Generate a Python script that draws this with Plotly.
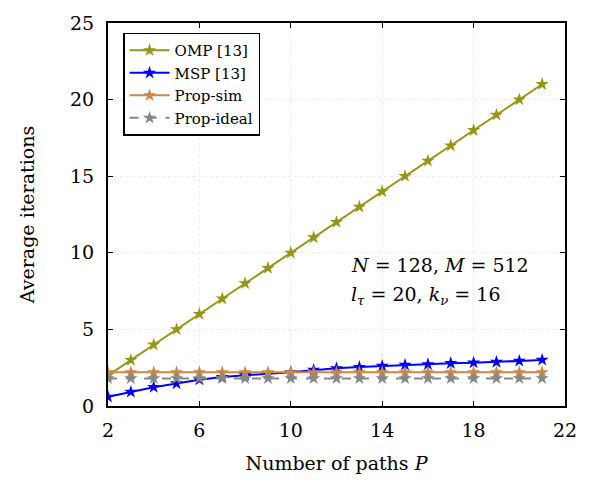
import plotly.graph_objects as go

paths = list(range(2, 22))
omp = [2, 3, 4, 5, 6, 7, 8, 9, 10, 11, 12, 13, 14, 15, 16, 17, 18, 19, 20, 21]
msp = [0.6, 0.92, 1.23, 1.47, 1.72, 1.89, 2.02, 2.11, 2.21, 2.35, 2.46, 2.54, 2.61, 2.68, 2.72, 2.79, 2.83, 2.87, 2.94, 3.01]
prop_sim = [2.2] * 20
prop_ideal = [1.8] * 20

names = ["OMP [13]", "MSP [13]", "Prop-sim", "Prop-ideal"]
colors = ["rgb(150,150,20)", "rgb(0,0,255)", "rgb(205,135,70)", "rgb(135,135,135)"]
dashes = ["solid", "solid", "solid", "dash"]
series = [omp, msp, prop_sim, prop_ideal]

font_family = "DejaVu Serif, Liberation Serif, serif"

fig = go.Figure()
for name, ys, c, d in zip(names, series, colors, dashes):
    fig.add_trace(go.Scatter(
        x=paths, y=ys, name=name, mode="lines+markers",
        line=dict(color=c, width=2, dash=d),
        marker=dict(symbol="star", size=10, color=c),
    ))

axis_common = dict(
    showline=True, linecolor="black", linewidth=2, mirror="ticks",
    ticks="inside", ticklen=5, tickcolor="black",
    showgrid=True, gridcolor="rgb(236,236,236)", griddash="dot", gridwidth=1,
    zeroline=False,
    tickfont=dict(family=font_family, size=19, color="black"),
)

fig.update_layout(
    width=589, height=483,
    margin=dict(l=108, r=24, t=16, b=75),
    paper_bgcolor="white", plot_bgcolor="white",
    font=dict(family=font_family, color="black"),
    xaxis=dict(range=[2, 22], tickvals=[2, 6, 10, 14, 18, 22], ticklabelstandoff=6,
               title=dict(text="Number of paths <i>P</i>", font=dict(family=font_family, size=19), standoff=17),
               **axis_common),
    yaxis=dict(range=[0, 25], tickvals=[0, 5, 10, 15, 20, 25], ticklabelstandoff=8,
               title=dict(text="Average iterations", font=dict(family=font_family, size=19), standoff=30),
               **axis_common),
    legend=dict(x=0.033, y=0.975, xanchor="left", yanchor="top",
                bgcolor="white", bordercolor="black", borderwidth=1.5,
                font=dict(family=font_family, size=15), itemwidth=40,
                tracegroupgap=0),
    showlegend=True,
)

fig.add_annotation(x=12.55, y=9.2, xref="x", yref="y", xanchor="left", yanchor="middle",
                   text="<i>N</i> = 128, <i>M</i> = 512", showarrow=False,
                   font=dict(family=font_family, size=19, color="black"))
fig.add_annotation(x=12.55, y=7.2, xref="x", yref="y", xanchor="left", yanchor="middle",
                   text="<i>l</i><sub><i>τ</i></sub> = 20, <i>k</i><sub><i>ν</i></sub> = 16", showarrow=False,
                   font=dict(family=font_family, size=19, color="black"))

fig.write_html("out.html")
